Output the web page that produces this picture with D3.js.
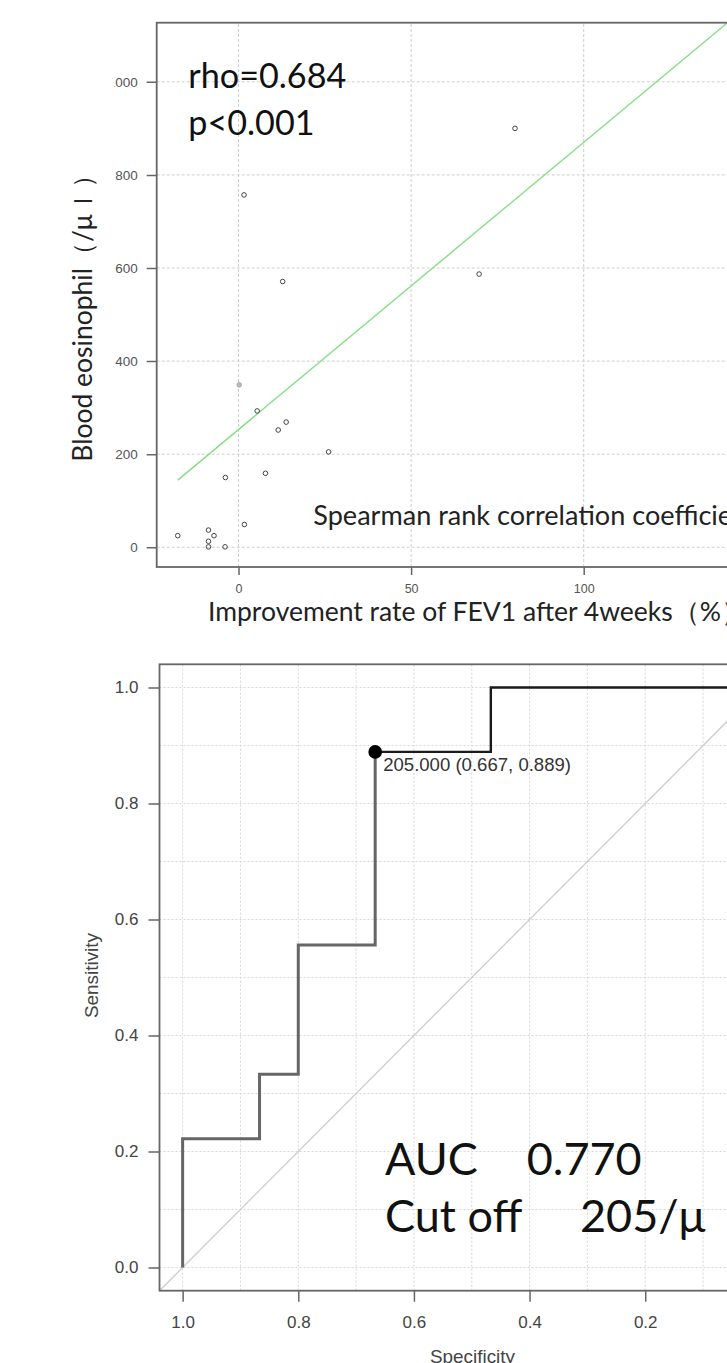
<!DOCTYPE html>
<html><head><meta charset="utf-8">
<script src="https://cdn.jsdelivr.net/npm/d3@7"></script>
<style>body{margin:0;background:#fff}svg{display:block}</style>
</head><body><svg id="c" width="727" height="1363"></svg>
<script>
// ---------- data ----------
const fevImprovement = [-17.6, -8.7, -7.1, -8.7, -8.7, -3.9, -3.8, 0.2, 1.7, 5.4, 7.8, 11.5, 13.8, 26.1, 1.6, 12.8, 69.7, 80.1];
const bloodEos       = [25, 37, 25, 13, 1, 1, 150, 349, 49, 293, 159, 252, 269, 205, 757, 571, 587, 900];
const fitIntercept = 253;
const fitSlope = 6.17;
const scatterXTicks = [0, 50, 100];
const scatterYTicks = [0, 200, 400, 600, 800, 1000];
const rhoText = "rho=0.684";
const pText = "p<0.001";
const methodText = "Spearman rank correlation coefficient";
const scatterXTitle = "Improvement rate of FEV1 after 4weeks（%）";
const scatterYTitle = "Blood eosinophil（/μｌ）";

const rocSpecificity = [1, 1, 0.867, 0.867, 0.8, 0.8, 0.667, 0.667, 0.467, 0.467, 0];
const rocSensitivity = [0, 0.222, 0.222, 0.333, 0.333, 0.556, 0.556, 0.889, 0.889, 1, 1];
const bestIndex = 7;
const bestLabel = "205.000 (0.667, 0.889)";
const rocYTicks = [1.0, 0.8, 0.6, 0.4, 0.2, 0.0];
const rocXTicks = [1.0, 0.8, 0.6, 0.4, 0.2];
const rocGridLines = [1.0, 0.9, 0.8, 0.7, 0.6, 0.5, 0.4, 0.3, 0.2, 0.1, 0.0];
const aucWords = ["AUC", "0.770"];
const cutWords = ["Cut off", "205/μ"];

// ---------- setup ----------
const svg = d3.select("#c");
const ANN = "Lato, 'Open Sans', sans-serif";
const TICKF = "'Liberation Sans', Arial, sans-serif";
function fitSize(str, width, family) {
  const t = svg.append("text").attr("font-family", family).attr("font-size", 100).text(str);
  const w = t.node().getComputedTextLength();
  t.remove();
  return 100 * width / w;
}

// ================= Scatter plot =================
const x1 = d3.scaleLinear().domain([-23.7, 142]).range([156.7, 728.7]);
const y1 = d3.scaleLinear().domain([-42.3, 1127]).range([567, 22.7]);
const g1 = svg.append("g");
g1.append("clipPath").attr("id", "clip1").append("rect")
  .attr("x", x1.range()[0]).attr("y", y1.range()[1])
  .attr("width", x1.range()[1] - x1.range()[0]).attr("height", y1.range()[0] - y1.range()[1]);

// grid
g1.append("g").selectAll("line").data(scatterYTicks).join("line")
  .attr("x1", x1.range()[0]).attr("x2", x1.range()[1])
  .attr("y1", d => y1(d)).attr("y2", d => y1(d))
  .attr("stroke", "#cfcfcf").attr("stroke-dasharray", "3,2").attr("stroke-width", 1);
g1.append("g").selectAll("line").data(scatterXTicks).join("line")
  .attr("y1", y1.range()[0]).attr("y2", y1.range()[1])
  .attr("x1", d => x1(d)).attr("x2", d => x1(d))
  .attr("stroke", "#cfcfcf").attr("stroke-dasharray", "3,2").attr("stroke-width", 1);

// regression line
const xMin = d3.min(fevImprovement);
const xEnd = x1.domain()[1];
g1.append("line").attr("clip-path", "url(#clip1)")
  .attr("x1", x1(xMin)).attr("y1", y1(fitIntercept + fitSlope * xMin))
  .attr("x2", x1(xEnd)).attr("y2", y1(fitIntercept + fitSlope * xEnd))
  .attr("stroke", "#86dd86").attr("stroke-width", 1.4);

// points
g1.append("g").selectAll("circle").data(fevImprovement.map((v, i) => [v, bloodEos[i]])).join("circle")
  .attr("cx", d => x1(d[0])).attr("cy", d => y1(d[1])).attr("r", 2.3)
  .attr("fill", d => d[0] === 0.2 ? "#bbb" : "none")
  .attr("stroke", d => d[0] === 0.2 ? "#aaa" : "#444").attr("stroke-width", 1);

// box
g1.append("rect").attr("x", x1.range()[0]).attr("y", y1.range()[1])
  .attr("width", x1.range()[1] - x1.range()[0]).attr("height", y1.range()[0] - y1.range()[1])
  .attr("fill", "none").attr("stroke", "#666").attr("stroke-width", 1.8);

// axes
svg.append("clipPath").attr("id", "clipY1").append("rect").attr("x", 114.3).attr("y", 0).attr("width", 60).attr("height", 620);
const ay1 = g1.append("g").attr("clip-path", "url(#clipY1)")
  .append("g").attr("transform", `translate(${x1.range()[0]},0)`)
  .call(d3.axisLeft(y1).tickValues(scatterYTicks).tickSize(10).tickPadding(9).tickFormat(d3.format("d")));
const ax1 = g1.append("g").attr("transform", `translate(0,${y1.range()[0]})`)
  .call(d3.axisBottom(x1).tickValues(scatterXTicks).tickSize(8).tickPadding(9).tickFormat(d3.format("d")));
[ay1, ax1].forEach(a => {
  a.select(".domain").remove();
  a.selectAll("line").attr("stroke", "#666").attr("stroke-width", 1.5);
  a.selectAll("text").attr("font-family", TICKF).attr("font-size", 13.5).attr("fill", "#555");
});
ax1.selectAll("text").attr("font-size", 12.5);

// annotations
const rs = fitSize(rhoText, 158, ANN);
svg.append("text").attr("x", 188.3).attr("y", 88.3).attr("font-family", ANN).attr("font-size", rs).attr("fill", "#111").text(rhoText);
svg.append("text").attr("x", 188.3).attr("y", 135).attr("font-family", ANN).attr("font-size", rs).attr("fill", "#111").text(pText);
const ss = fitSize("Spearman", 118, ANN);
svg.append("text").attr("x", 313.3).attr("y", 525).attr("font-family", ANN).attr("font-size", ss).attr("fill", "#222").text(methodText);
const xs = fitSize("Improvement rate of FEV1 after 4weeks", 465, ANN);
svg.append("text").attr("x", 208).attr("y", 621).attr("font-family", ANN).attr("font-size", xs).attr("fill", "#222").text(scatterXTitle);
const ys = fitSize("Blood eosinophil", 193.7, ANN);
svg.append("text").attr("transform", "translate(92,461.7) rotate(-90)").attr("font-family", ANN)
  .attr("font-size", ys).attr("fill", "#222").text(scatterYTitle);

// ================= ROC plot =================
const x2 = d3.scaleLinear().domain([1.04, -0.04]).range([159.5, 784]);
const y2 = d3.scaleLinear().domain([-0.04, 1.04]).range([1290.7, 664.3]);
const g2 = svg.append("g");
g2.append("clipPath").attr("id", "clip2").append("rect")
  .attr("x", x2.range()[0]).attr("y", y2.range()[1])
  .attr("width", x2.range()[1] - x2.range()[0]).attr("height", y2.range()[0] - y2.range()[1]);

// grid
g2.append("g").selectAll("line").data(rocGridLines).join("line")
  .attr("x1", x2.range()[0]).attr("x2", x2.range()[1])
  .attr("y1", d => y2(d)).attr("y2", d => y2(d))
  .attr("stroke", "#d6d6d6").attr("stroke-dasharray", "2,2").attr("stroke-width", 1);
g2.append("g").selectAll("line").data(rocGridLines).join("line")
  .attr("y1", y2.range()[0]).attr("y2", y2.range()[1])
  .attr("x1", d => x2(d)).attr("x2", d => x2(d))
  .attr("stroke", "#d6d6d6").attr("stroke-dasharray", "2,2").attr("stroke-width", 1);

// diagonal (sensitivity = 1 - specificity)
g2.append("line").attr("clip-path", "url(#clip2)")
  .attr("x1", x2(1.04)).attr("y1", y2(1 - 1.04))
  .attr("x2", x2(-0.04)).attr("y2", y2(1 + 0.04))
  .attr("stroke", "#cccccc").attr("stroke-width", 1.3);

// ROC curve
const rocPts = rocSpecificity.map((s, i) => [s, rocSensitivity[i]]);
const line2 = d3.line().x(d => x2(d[0])).y(d => y2(d[1]));
g2.append("path").attr("d", line2(rocPts.slice(0, bestIndex + 1)))
  .attr("fill", "none").attr("stroke", "#666").attr("stroke-width", 3);
g2.append("path").attr("d", line2(rocPts.slice(bestIndex)))
  .attr("fill", "none").attr("stroke", "#1a1a1a").attr("stroke-width", 2.4);
g2.append("circle").attr("cx", x2(rocPts[bestIndex][0])).attr("cy", y2(rocPts[bestIndex][1]))
  .attr("r", 6.8).attr("fill", "#000");
const ls = fitSize(bestLabel, 188, TICKF);
g2.append("text").attr("x", x2(rocPts[bestIndex][0]) + 8).attr("y", y2(rocPts[bestIndex][1]) + 19)
  .attr("font-family", TICKF).attr("font-size", ls).attr("fill", "#333").text(bestLabel);

// box
g2.append("rect").attr("x", x2.range()[0]).attr("y", y2.range()[1])
  .attr("width", x2.range()[1] - x2.range()[0]).attr("height", y2.range()[0] - y2.range()[1])
  .attr("fill", "none").attr("stroke", "#666").attr("stroke-width", 1.8);

// axes
const ay2 = g2.append("g").attr("transform", `translate(${x2.range()[0]},0)`)
  .call(d3.axisLeft(y2).tickValues(rocYTicks).tickSize(11).tickPadding(10).tickFormat(d3.format(".1f")));
const ax2 = g2.append("g").attr("transform", `translate(0,${y2.range()[0]})`)
  .call(d3.axisBottom(x2).tickValues(rocXTicks).tickSize(11).tickPadding(14).tickFormat(d3.format(".1f")));
[ay2, ax2].forEach(a => {
  a.select(".domain").remove();
  a.selectAll("line").attr("stroke", "#666").attr("stroke-width", 1.5);
  a.selectAll("text").attr("font-family", TICKF).attr("font-size", 17).attr("fill", "#444");
});
const sz = fitSize("Sensitivity", 85, TICKF);
svg.append("text").attr("transform", "translate(98,975.5) rotate(-90)").attr("text-anchor", "middle")
  .attr("font-family", TICKF).attr("font-size", sz).attr("fill", "#444").text("Sensitivity");
svg.append("text").attr("x", 472.5).attr("y", 1363).attr("text-anchor", "middle")
  .attr("font-family", TICKF).attr("font-size", sz).attr("fill", "#444").text("Specificity");

// AUC / cut-off annotation
const as = fitSize(aucWords[1], 115, ANN);
const t1 = svg.append("text").attr("y", 1175).attr("font-family", ANN).attr("font-size", as).attr("fill", "#111");
t1.append("tspan").attr("x", 385).text(aucWords[0]);
t1.append("tspan").attr("x", 526.7).text(aucWords[1]);
const t2 = svg.append("text").attr("y", 1232).attr("font-family", ANN).attr("font-size", as).attr("fill", "#111");
t2.append("tspan").attr("x", 385).text(cutWords[0]);
t2.append("tspan").attr("x", 580).text(cutWords[1]);
</script></body></html>
